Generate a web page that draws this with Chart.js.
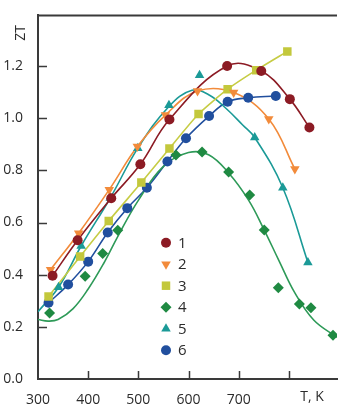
<!DOCTYPE html>
<html>
<head>
<meta charset="utf-8">
<script src="https://cdn.jsdelivr.net/npm/chart.js@4.4.1/dist/chart.umd.min.js"></script>
<style>
    html, body { margin: 0; padding: 0; background: #fff; }
    #wrap { width: 343px; height: 404px; position: relative; }
</style>
</head>
<body>
<div id="wrap"><canvas id="ztChart"></canvas></div>
<script>
        // Measured points (T in K, ZT)
        const t1 = [329, 379, 446, 504, 562, 677, 745, 802, 841];
        const zt1 = [0.396, 0.532, 0.693, 0.823, 0.995, 1.200, 1.181, 1.073, 0.964];

        const t2 = [325, 381, 442, 498, 554, 618, 690, 760, 812];
        const zt2 = [0.419, 0.559, 0.726, 0.891, 1.012, 1.104, 1.098, 0.997, 0.805];

        const t3 = [321, 384, 441, 506, 562, 620, 678, 735, 797];
        const zt3 = [0.316, 0.470, 0.606, 0.753, 0.884, 1.016, 1.111, 1.184, 1.256];

        const t4 = [323, 394, 429, 459, 575, 627, 680, 722, 751, 779, 821, 844, 888];
        const zt4 = [0.253, 0.394, 0.481, 0.570, 0.859, 0.870, 0.794, 0.705, 0.571, 0.350, 0.288, 0.273, 0.168];

        const t5 = [341, 386, 444, 499, 561, 622, 732, 788, 838];
        const zt5 = [0.352, 0.510, 0.694, 0.885, 1.050, 1.165, 0.926, 0.733, 0.447];

        const t6 = [321, 360, 400, 439, 478, 517, 558, 595, 641, 678, 719, 774];
        const zt6 = [0.292, 0.362, 0.450, 0.562, 0.655, 0.733, 0.834, 0.923, 1.008, 1.063, 1.078, 1.085];

        // Fitted curves for samples 4 and 5
        const fitT4 = [300, 320, 340, 370, 400, 430, 460, 500, 550, 600, 640, 680, 720, 750, 780, 812, 850, 896];
        const fitZ4 = [0.228, 0.222, 0.228, 0.270, 0.345, 0.440, 0.550, 0.685, 0.815, 0.868, 0.860, 0.790, 0.685, 0.575, 0.455, 0.330, 0.225, 0.160];

        const fitT5 = [300, 341, 386, 444, 499, 561, 607, 642, 675, 708, 732, 788, 838];
        const fitZ5 = [0.258, 0.352, 0.510, 0.694, 0.885, 1.045, 1.107, 1.088, 1.037, 0.974, 0.926, 0.733, 0.447];

        const seriesNames = ['1', '2', '3', '4', '5', '6'];
        const xTicks = [300, 400, 500, 600, 700, 800];
        const yTicks = [0.0, 0.2, 0.4, 0.6, 0.8, 1.0, 1.2];

        const colors = {
            s1: '#8c1b24',
            s2: '#f28b3b',
            s3: '#c3c83c',
            s4: '#1f8a42',
            s5: '#1b9a97',
            s6: '#214f9e',
            line4: '#2e9a58',
            axis: '#3a3a3a',
            text: '#2b2b2b'
        };
        const font = '"Open Sans", "DejaVu Sans", sans-serif';

        function pts(xs, ys) {
            return xs.map((x, i) => ({ x: x, y: ys[i] }));
        }

        const markerStyles = [
            { color: colors.s1, style: 'circle', r: 5, rot: 0 },
            { color: colors.s2, style: 'triangle', r: 5.5, rot: 180 },
            { color: colors.s3, style: 'rect', r: 6, rot: 0 },
            { color: colors.s4, style: 'rectRot', r: 5.5, rot: 0 },
            { color: colors.s5, style: 'triangle', r: 5.5, rot: 0 },
            { color: colors.s6, style: 'circle', r: 5, rot: 0 }
        ];
        const markerData = [pts(t1, zt1), pts(t2, zt2), pts(t3, zt3), pts(t4, zt4), pts(t5, zt5), pts(t6, zt6)];
        const lineData = [pts(t1, zt1), pts(t2, zt2), pts(t3, zt3), pts(fitT4, fitZ4), pts(fitT5, fitZ5), pts(t6, zt6)];
        const lineColors = [colors.s1, colors.s2, '#c6cc44', colors.line4, colors.s5, colors.s6];
        const lineTension = [0.4, 0.4, 0.2, 0.4, 0.4, 0.4];

        const datasets = [];
        lineData.forEach((d, i) => {
            datasets.push({
                label: 'fit ' + seriesNames[i],
                data: d,
                borderColor: lineColors[i],
                borderWidth: 1.6,
                pointRadius: 0,
                tension: lineTension[i],
                fill: false,
                order: 2
            });
        });
        markerData.forEach((d, i) => {
            const m = markerStyles[i];
            datasets.push({
                label: seriesNames[i],
                data: d,
                showLine: false,
                pointStyle: m.style,
                rotation: m.rot,
                pointRadius: m.r,
                pointBackgroundColor: m.color,
                pointBorderColor: m.color,
                pointBorderWidth: 0,
                order: 1
            });
        });

        // Frame top line, inward ticks, axis titles and the legend
        const decorations = {
            id: 'decorations',
            afterDraw(chart) {
                const { ctx, chartArea, scales } = chart;
                ctx.save();
                ctx.strokeStyle = colors.axis;
                ctx.lineWidth = 2;
                ctx.beginPath();
                ctx.moveTo(chartArea.left - 1, chartArea.top);
                ctx.lineTo(chartArea.right, chartArea.top);
                ctx.stroke();

                ctx.lineWidth = 1.5;
                ctx.beginPath();
                xTicks.slice(1).forEach(v => {
                    const px = Math.round(scales.x.getPixelForValue(v)) + 0.5;
                    ctx.moveTo(px, chartArea.bottom);
                    ctx.lineTo(px, chartArea.bottom - 8);
                });
                yTicks.slice(1).forEach(v => {
                    const py = Math.round(scales.y.getPixelForValue(v)) + 0.5;
                    ctx.moveTo(chartArea.left, py);
                    ctx.lineTo(chartArea.left + 9, py);
                });
                ctx.stroke();

                ctx.fillStyle = colors.text;
                ctx.font = '14px ' + font;
                ctx.textAlign = 'center';
                ctx.textBaseline = 'middle';
                ctx.fillText('T, K', 312, 397);
                ctx.save();
                ctx.translate(21, 33);
                ctx.rotate(-Math.PI / 2);
                ctx.fillText('ZT', 0, 0);
                ctx.restore();

                // legend
                ctx.font = '15px ' + font;
                ctx.textAlign = 'left';
                seriesNames.forEach((name, i) => {
                    const m = markerStyles[i];
                    const y = 242.7 + i * 21.5;
                    ctx.fillStyle = m.color;
                    Chart.helpers.drawPoint(ctx, {
                        pointStyle: m.style, rotation: m.rot, radius: m.r, borderWidth: 0
                    }, 166, y);
                    ctx.fillStyle = colors.text;
                    ctx.fillText(name, 178, y + 1);
                });
                ctx.restore();
            }
        };

        const ctx = document.getElementById('ztChart').getContext('2d');
        new Chart(ctx, {
            type: 'line',
            data: { datasets: datasets },
            options: {
                responsive: true,
                maintainAspectRatio: false,
                animation: false,
                layout: { padding: { top: 13, right: 0, left: 0, bottom: 0 } },
                plugins: {
                    legend: { display: false },
                    tooltip: { enabled: false }
                },
                scales: {
                    x: {
                        type: 'linear',
                        min: 300,
                        max: 896,
                        grid: { display: false },
                        border: { display: true, color: colors.axis, width: 2 },
                        afterFit: s => { s.height = 25; },
                        afterBuildTicks: s => { s.ticks = xTicks.map(v => ({ value: v })); },
                        ticks: {
                            autoSkip: false,
                            maxRotation: 0,
                            padding: 5,
                            color: colors.text,
                            font: { family: font, size: 14 },
                            callback: v => (v === 800 ? '' : v)
                        }
                    },
                    y: {
                        min: 0,
                        max: 1.394,
                        grid: { display: false },
                        border: { display: true, color: colors.axis, width: 2 },
                        afterFit: s => { s.width = 38; },
                        afterBuildTicks: s => { s.ticks = yTicks.map(v => ({ value: v })); },
                        ticks: {
                            autoSkip: false,
                            padding: 7,
                            color: colors.text,
                            font: { family: font, size: 14 },
                            callback: v => v.toFixed(1)
                        }
                    }
                }
            },
            plugins: [decorations]
        });
</script>
</body>
</html>
